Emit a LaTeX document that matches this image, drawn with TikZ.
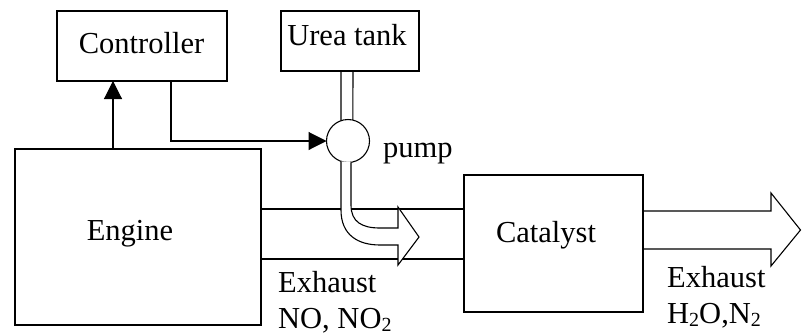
\documentclass[tikz,border=0pt]{standalone}
\usepackage{fontspec}
\setmainfont{Liberation Serif}
\usetikzlibrary{arrows.meta}
\newcommand\subsc[1]{\raisebox{-0.28ex}{\fontsize{20}{20}\selectfont #1}}
\begin{document}
\begin{tikzpicture}[x=1pt,y=-1pt,
  box/.style={draw,line width=1.1pt,rectangle,inner sep=0pt,outer sep=0pt},
  lbl/.style={inner sep=0pt,anchor=base,font=\fontsize{30.5}{35.5}\selectfont},
  ln/.style={line width=1.1pt},
  tri/.style={-{Triangle[length=18pt,width=18pt]}}]
\useasboundingbox (0,0) rectangle (802,335);
% boxes
\node[box,minimum width=170pt,minimum height=70pt] (ctrl) at (142,46) {};
\node[box,minimum width=138pt,minimum height=60pt] (tank) at (350,41) {};
\node[box,minimum width=246pt,minimum height=176pt] (engine) at (138,237) {};
\node[box,minimum width=179pt,minimum height=137pt] (cat) at (553.5,243.5) {};
\node[draw,line width=1.1pt,circle,minimum size=43pt,inner sep=0pt,outer sep=0pt] (pump) at (348,141) {};
% labels
\node[lbl] (tctrl) at (141.5,53) {Controller};
\node[lbl] (ttank) at (347,45) {Urea tank};
\node[lbl,anchor=base west] (tpump) at (383,157) {pump};
\node[lbl] (teng) at (130,240) {Engine};
\node[lbl] (tcat) at (546,242) {Catalyst};
\node[lbl,anchor=base west,align=left] (tex1) at (278,328) {Exhaust\\NO, NO\subsc{2}};
\node[lbl,anchor=base west,align=left] (tex2) at (667,323) {Exhaust\\H\subsc{2}O,N\subsc{2}};
% helper coordinates
\coordinate (xa) at (113,0);
\coordinate (xb) at (171,0);
\coordinate (ya) at (0,209);
\coordinate (yb) at (0,259);
% engine -> controller
\draw[ln,tri] (xa |- engine.north) -- (xa |- ctrl.south);
% controller -> pump
\draw[ln,tri] (xb |- ctrl.south) |- (pump.west);
% urea pipe
\draw[ln] (tank.south -| 341,0) -- (pump.109);
\draw[ln] (tank.south -| 353,0) -- (pump.77);
% exhaust channel
\draw[ln] (engine.east |- ya) -- (cat.west |- ya);
\draw[ln] (engine.east |- yb) -- (cat.west |- yb);
% urea injection hollow arrow
\draw[ln,fill=white,line join=miter] (pump.278) -- (351,205) .. controls (351,222) and (362,228) .. (380,228) -- (398,228)
  -- (398,207) -- (419,237) -- (398,265) -- (398,245) -- (380,245)
  .. controls (358,245) and (341,235) .. (341,210) -- (pump.251);
% output hollow arrow
\coordinate (oa) at (0,211);
\coordinate (ob) at (0,249);
\draw[ln,line join=miter] (cat.east |- oa) -- (771,211) -- (771,193) -- (800.5,230) -- (771,266) -- (771,249) -- (cat.east |- ob);
\end{tikzpicture}
\end{document}
